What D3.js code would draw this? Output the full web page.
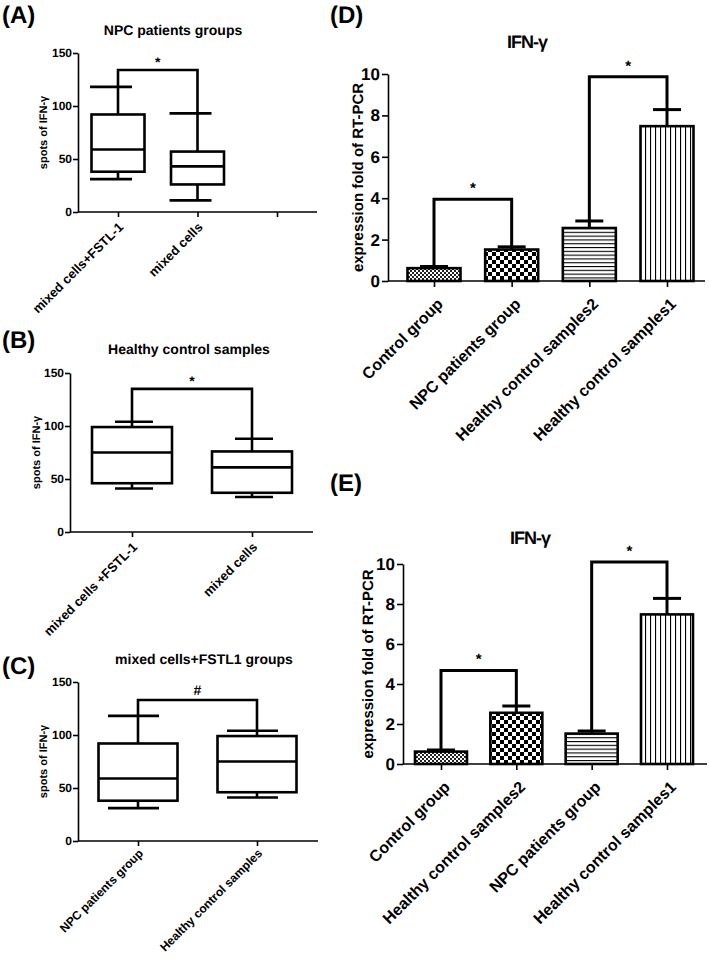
<!DOCTYPE html>
<html><head><meta charset="utf-8">
<script src="https://cdn.jsdelivr.net/npm/d3@7"></script>
<style>
body{margin:0;background:#fff;}
text{font-family:"Liberation Sans",Arial,sans-serif;font-weight:bold;fill:#000;-webkit-font-smoothing:antialiased;text-rendering:geometricPrecision;}
</style></head>
<body><svg id="c" width="709" height="959"></svg>
<script>
// ---------- DATA ----------
const aCategories = ["mixed cells+FSTL-1", "mixed cells", ""];
const aMin = [31, 11], aQ1 = [38, 26], aMed = [59, 43], aQ3 = [92, 57], aMax = [118, 93];
const aBracket = 134, aSymbol = "*";

const bCategories = ["mixed cells +FSTL-1", "mixed cells"];
const bMin = [41, 33], bQ1 = [46, 37], bMed = [75, 61], bQ3 = [99, 76], bMax = [104, 88];
const bBracket = 135, bSymbol = "*";

const cCategories = ["NPC patients group", "Healthy control samples"];
const cMin = [31, 41], cQ1 = [38, 46], cMed = [59, 75], cQ3 = [92, 99], cMax = [118, 104];
const cBracket = 133, cSymbol = "#";

const boxTicks = [0, 50, 100, 150];

const dCategories = ["Control group", "NPC patients group", "Healthy control samples2", "Healthy control samples1"];
const dMeans = [0.62, 1.52, 2.56, 7.48];
const dErr = [0.08, 0.13, 0.34, 0.8];
const dBrackets = [[0, 1, 3.95], [2, 3, 9.87]];

const eCategories = ["Control group", "Healthy control samples2", "NPC patients group", "Healthy control samples1"];
const eMeans = [0.62, 2.56, 1.52, 7.48];
const eErr = [0.08, 0.34, 0.13, 0.8];
const eBrackets = [[0, 1, 4.68], [2, 3, 10.1]];

const barTicks = [0, 2, 4, 6, 8, 10];
const barPatterns = ["fine", "check", "hlines", "vlines"];

// ---------- DRAW ----------
const svg = d3.select("#c");
const defs = svg.append("defs");
let p = defs.append("pattern").attr("id","fine").attr("patternUnits","userSpaceOnUse").attr("width",4).attr("height",4);
p.append("rect").attr("width",4).attr("height",4).attr("fill","#fff");
p.append("rect").attr("width",2).attr("height",2).attr("fill","#222");
p.append("rect").attr("x",2).attr("y",2).attr("width",2).attr("height",2).attr("fill","#222");
p = defs.append("pattern").attr("id","check").attr("patternUnits","userSpaceOnUse").attr("width",8).attr("height",8);
p.append("rect").attr("width",8).attr("height",8).attr("fill","#fff");
p.append("rect").attr("width",4).attr("height",4).attr("fill","#000");
p.append("rect").attr("x",4).attr("y",4).attr("width",4).attr("height",4).attr("fill","#000");
p = defs.append("pattern").attr("id","hlines").attr("patternUnits","userSpaceOnUse").attr("width",4).attr("height",3.8);
p.append("rect").attr("width",4).attr("height",3.8).attr("fill","#fff");
p.append("rect").attr("y",0).attr("width",4).attr("height",1.1).attr("fill","#000");
p = defs.append("pattern").attr("id","vlines").attr("patternUnits","userSpaceOnUse").attr("width",5).attr("height",4);
p.append("rect").attr("width",5).attr("height",4).attr("fill","#fff");
p.append("rect").attr("x",0).attr("width",1.1).attr("height",4).attr("fill","#000");

function styleAxis(g, fs){
  g.selectAll("path.domain").attr("stroke","#000").attr("stroke-width",1.6);
  g.selectAll(".tick line").attr("stroke","#000").attr("stroke-width",1.6);
  g.selectAll(".tick text").style("font-size", fs+"px").style("font-weight","bold")
    .style("font-family",'"Liberation Sans",Arial,sans-serif').attr("fill","#000");
}

function boxPanel(o){
  const y = d3.scaleLinear().domain([0,150]).range([o.y0, o.yTop]);
  const x = d3.scalePoint().domain(o.cats).range(o.xr);
  const g = svg.append("g");
  g.append("text").attr("x", o.letterX).attr("y", o.letterY).style("font-size","24px").text(o.letter);
  g.append("text").attr("x", o.titleX).attr("y", o.titleY).attr("text-anchor","middle").style("font-size","14px").text(o.title);
  const ya = g.append("g").attr("transform",`translate(${o.x0},0)`)
    .call(d3.axisLeft(y).tickValues(boxTicks).tickSize(5).tickSizeOuter(0).tickPadding(1));
  styleAxis(ya, 12);
  const xa = g.append("g").attr("transform",`translate(0,${o.y0})`)
    .call(d3.axisBottom(x).tickSize(5).tickSizeOuter(0).tickFormat(""));
  xa.select("path.domain").remove();
  styleAxis(xa, 12);
  g.append("line").attr("x1",o.x0).attr("x2",o.xEnd).attr("y1",o.y0).attr("y2",o.y0).attr("stroke","#000").attr("stroke-width",1.6);
  g.append("text").attr("transform",`translate(${o.ylabX},${(o.y0+o.yTop)/2}) rotate(-90)`)
    .attr("text-anchor","middle").style("font-size","11px").text("spots of IFN-\u03b3");
  o.cats.forEach((c,i)=>{
    if(!c) return;
    g.append("text").attr("transform",`translate(${x(c)+6},${o.y0+o.labDy}) rotate(-45)`)
      .attr("text-anchor","end").style("font-size",o.labFs+"px").text(c);
  });
  const sw = 2.6;
  o.min.forEach((mn,i)=>{
    const cx = x(o.cats[i]), bw = o.bw;
    const L = ()=>g.append("line").attr("stroke","#000").attr("stroke-width",sw);
    L().attr("x1",cx).attr("x2",cx).attr("y1",y(o.q3[i])).attr("y2",y(o.max[i]));
    L().attr("x1",cx).attr("x2",cx).attr("y1",y(o.q1[i])).attr("y2",y(mn));
    L().attr("x1",cx-o.capL).attr("x2",cx+o.capR).attr("y1",y(o.max[i])).attr("y2",y(o.max[i]));
    L().attr("x1",cx-o.capL).attr("x2",cx+o.capR).attr("y1",y(mn)).attr("y2",y(mn));
    g.append("rect").attr("x",cx-bw/2).attr("width",bw).attr("y",y(o.q3[i])).attr("height",y(o.q1[i])-y(o.q3[i]))
      .attr("fill","#fff").attr("stroke","#000").attr("stroke-width",sw);
    L().attr("x1",cx-bw/2).attr("x2",cx+bw/2).attr("y1",y(o.med[i])).attr("y2",y(o.med[i]));
  });
  const x1 = x(o.cats[0]), x2 = x(o.cats[1]), yb = y(o.bracket);
  g.append("path").attr("d",`M${x1},${y(o.max[0])}V${yb}H${x2}V${y(o.max[1])}`)
    .attr("fill","none").attr("stroke","#000").attr("stroke-width",sw);
  g.append("text").attr("x",(x1+x2)/2).attr("y",yb-o.symOff).attr("text-anchor","middle").style("font-size","14px").text(o.sym);
}

boxPanel({letter:"(A)", letterX:2, letterY:23, title:"NPC patients groups", titleX:173, titleY:35,
  cats:aCategories, min:aMin, q1:aQ1, med:aMed, q3:aQ3, max:aMax, bracket:aBracket, sym:aSymbol, symOff:3,
  x0:78, y0:212, yTop:53, xEnd:317, xr:[118,277], bw:53, capL:28, capR:14, ylabX:47, labFs:13, labDy:16});
boxPanel({letter:"(B)", letterX:2, letterY:348, title:"Healthy control samples", titleX:189, titleY:354,
  cats:bCategories, min:bMin, q1:bQ1, med:bMed, q3:bQ3, max:bMax, bracket:bBracket, sym:bSymbol, symOff:3,
  x0:70, y0:532, yTop:373, xEnd:313, xr:[132,252], bw:80, capL:17, capR:21, ylabX:40, labFs:13, labDy:16});
boxPanel({letter:"(C)", letterX:2, letterY:674, title:"mixed cells+FSTL1 groups", titleX:204, titleY:664,
  cats:cCategories, min:cMin, q1:cQ1, med:cMed, q3:cQ3, max:cMax, bracket:cBracket, sym:cSymbol, symOff:5,
  x0:78, y0:841, yTop:682, xEnd:318, xr:[138,257], bw:79, capL:30, capR:21, ylabX:47, labFs:12, labDy:13});

function barPanel(o){
  const y = d3.scaleLinear().domain([0,10]).range([o.y0, o.yTop]);
  const x = d3.scalePoint().domain(o.cats).range(o.xr);
  const g = svg.append("g");
  g.append("text").attr("x", o.letterX).attr("y", o.letterY).style("font-size","24px").text(o.letter);
  g.append("text").attr("x", o.titleX).attr("y", o.titleY).attr("text-anchor","middle").style("font-size","18px")
    .style("letter-spacing","-1px").text("IFN-\u03b3");
  const ya = g.append("g").attr("transform",`translate(${o.x0},0)`)
    .call(d3.axisLeft(y).tickValues(barTicks).tickSize(6).tickSizeOuter(0).tickPadding(2));
  styleAxis(ya, 17);
  const xa = g.append("g").attr("transform",`translate(0,${o.y0})`)
    .call(d3.axisBottom(x).tickSize(6).tickSizeOuter(0).tickFormat(""));
  xa.select("path.domain").remove();
  styleAxis(xa, 16);
  g.append("text").attr("transform",`translate(${o.ylabX},${(o.y0+o.yTop)/2}) rotate(-90)`)
    .attr("text-anchor","middle").style("font-size","15px").text("expression fold of RT-PCR");
  o.cats.forEach((c,i)=>{
    g.append("text").attr("transform",`translate(${x(c)+10},${o.y0+24}) rotate(-45)`)
      .attr("text-anchor","end").style("font-size","16px").text(c);
  });
  const sw = 2.6, bw = o.bw;
  o.means.forEach((m,i)=>{
    const cx = x(o.cats[i]);
    const top = m + o.err[i];
    g.append("line").attr("x1",cx).attr("x2",cx).attr("y1",y(m)).attr("y2",y(top)).attr("stroke","#000").attr("stroke-width",3);
    g.append("line").attr("x1",cx-14).attr("x2",cx+14).attr("y1",y(top)).attr("y2",y(top)).attr("stroke","#000").attr("stroke-width",3);
    g.append("rect").attr("x",cx-bw/2).attr("width",bw).attr("y",y(m)).attr("height",y(0)-y(m))
      .attr("fill",`url(#${barPatterns[i]})`).attr("stroke","#000").attr("stroke-width",sw);
  });
  g.append("line").attr("x1",o.x0).attr("x2",o.xEnd).attr("y1",o.y0).attr("y2",o.y0).attr("stroke","#000").attr("stroke-width",1.6);
  o.brackets.forEach(([a,b,v])=>{
    const x1 = x(o.cats[a]), x2 = x(o.cats[b]), yb = y(v);
    g.append("path").attr("d",`M${x1},${y(o.means[a]+o.err[a])}V${yb}H${x2}V${y(o.means[b]+o.err[b])}`)
      .attr("fill","none").attr("stroke","#000").attr("stroke-width",3);
    g.append("text").attr("x",(x1+x2)/2).attr("y",yb-6).attr("text-anchor","middle").style("font-size","15px").text("*");
  });
}

barPanel({letter:"(D)", letterX:330, letterY:23, titleX:527, titleY:48, cats:dCategories, means:dMeans, err:dErr,
  brackets:dBrackets, x0:388, y0:281, yTop:74, xEnd:705, xr:[434,667], bw:53, ylabX:363});
barPanel({letter:"(E)", letterX:330, letterY:491, titleX:530, titleY:544, cats:eCategories, means:eMeans, err:eErr,
  brackets:eBrackets, x0:403, y0:764, yTop:564, xEnd:707, xr:[441,667], bw:52, ylabX:373});
</script></body></html>
